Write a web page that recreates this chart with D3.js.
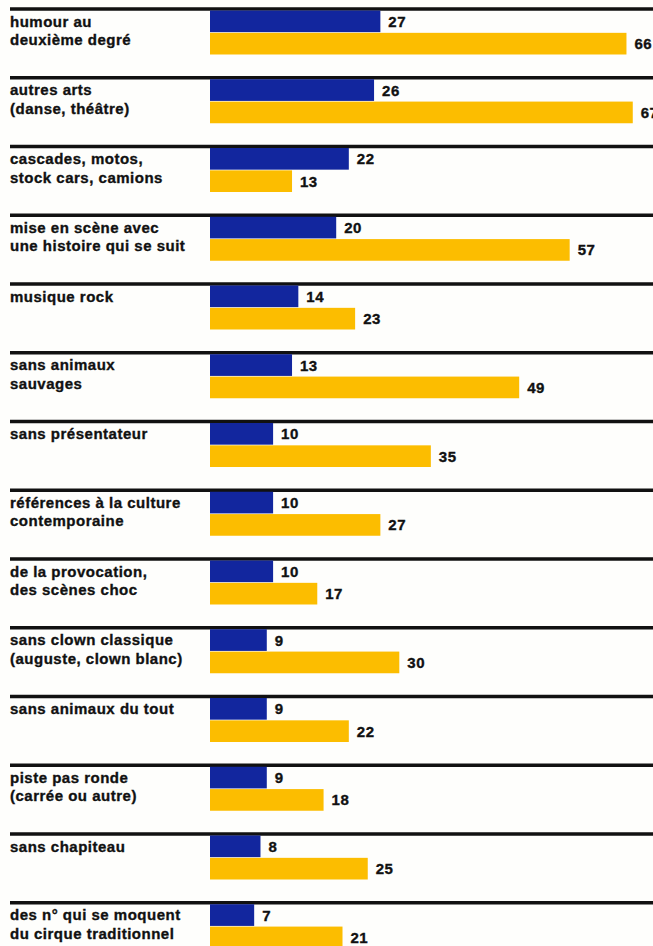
<!DOCTYPE html>
<html lang="fr">
<head>
<meta charset="utf-8">
<script src="https://cdn.jsdelivr.net/npm/d3@7"></script>
<style>
  html, body { margin: 0; padding: 0; background: #fefefc; }
  svg { display: block; }
  text { font-family: "Liberation Sans", Arial, Helvetica, sans-serif; font-weight: bold; fill: #111; stroke: #111; stroke-width: 0.35px; }
</style>
</head>
<body>
<svg id="chart" width="653" height="946"></svg>
<script>
// Catégories (chaque libellé sur une ou deux lignes)
const categories = [
  ["humour au", "deuxième degré"],
  ["autres arts", "(danse, théâtre)"],
  ["cascades, motos,", "stock cars, camions"],
  ["mise en scène avec", "une histoire qui se suit"],
  ["musique rock"],
  ["sans animaux", "sauvages"],
  ["sans présentateur"],
  ["références à la culture", "contemporaine"],
  ["de la provocation,", "des scènes choc"],
  ["sans clown classique", "(auguste, clown blanc)"],
  ["sans animaux du tout"],
  ["piste pas ronde", "(carrée ou autre)"],
  ["sans chapiteau"],
  ["des n° qui se moquent", "du cirque traditionnel"]
];

// Série bleue (haut) et série jaune (bas), en %
const blueValues   = [27, 26, 22, 20, 14, 13, 10, 10, 10, 9, 9, 9, 8, 7];
const yellowValues = [66, 67, 13, 57, 23, 49, 35, 27, 17, 30, 22, 18, 25, 21];

const seriesKeys = ["blue", "yellow"];
const seriesColors = ["#12269e", "#fcbd00"];

const width = 653;
const svg = d3.select("#chart");

const ids = categories.map((_, i) => i);
const y = d3.scaleBand().domain(ids).range([9, 9 + 68.75 * categories.length]);
const ySeries = d3.scaleBand().domain(seriesKeys).range([1.5, 45.5]).paddingInner(0.03);
const x = d3.scaleLinear().domain([0, 100]).range([210, 841]);
const color = d3.scaleOrdinal().domain(seriesKeys).range(seriesColors);

const rows = svg.selectAll("g.row")
  .data(ids)
  .join("g")
  .attr("class", "row")
  .attr("transform", i => `translate(0,${y(i)})`);

// Filet noir en tête de chaque ligne
rows.append("line")
  .attr("x1", 10).attr("x2", width)
  .attr("y1", 0).attr("y2", 0)
  .attr("stroke", "#111")
  .attr("stroke-width", 3.5);

// Libellés de catégorie
rows.append("text")
  .attr("x", 10)
  .attr("y", 17.5)
  .style("font-size", "15px")
  .style("letter-spacing", "0.5px")
  .selectAll("tspan")
  .data(i => categories[i])
  .join("tspan")
  .attr("x", 10)
  .attr("dy", (d, k) => k === 0 ? 0 : 18.5)
  .text(d => d);

// Barres et valeurs
const pairs = i => seriesKeys.map((k, s) => ({ key: k, value: s === 0 ? blueValues[i] : yellowValues[i] }));

rows.selectAll("rect")
  .data(pairs)
  .join("rect")
  .attr("x", x(0))
  .attr("y", d => ySeries(d.key))
  .attr("width", d => x(d.value) - x(0))
  .attr("height", ySeries.bandwidth())
  .attr("fill", d => color(d.key));

rows.selectAll("text.val")
  .data(pairs)
  .join("text")
  .attr("class", "val")
  .attr("x", d => x(d.value) + 8)
  .attr("y", d => ySeries(d.key) + ySeries.bandwidth() / 2 + 5.5)
  .style("font-size", "15px")
  .style("letter-spacing", "0.5px")
  .text(d => d.value);
</script>
</body>
</html>
